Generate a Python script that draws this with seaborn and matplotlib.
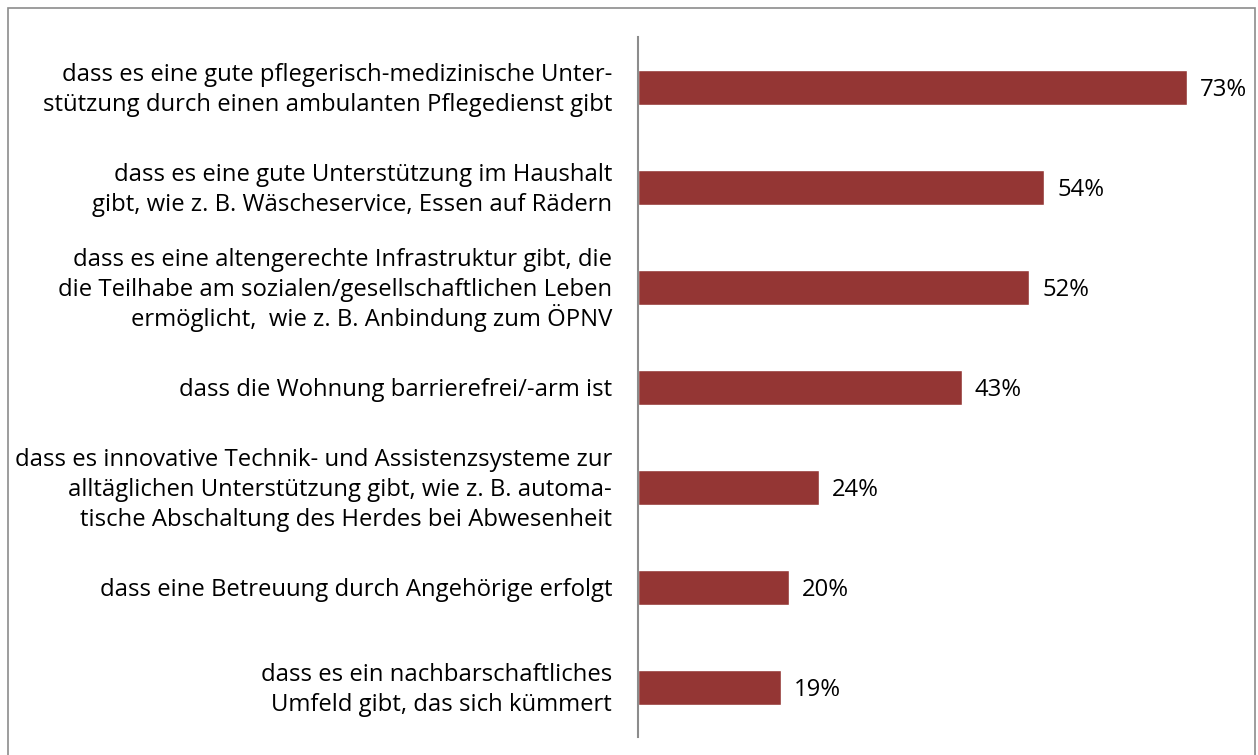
import pandas as pd
import matplotlib.pyplot as plt
import seaborn as sns
from matplotlib.patches import Rectangle

labels = [
    "dass es eine gute pflegerisch-medizinische Unter-\nstützung durch einen ambulanten Pflegedienst gibt",
    "dass es eine gute Unterstützung im Haushalt\ngibt, wie z. B. Wäscheservice, Essen auf Rädern",
    "dass es eine altengerechte Infrastruktur gibt, die\ndie Teilhabe am sozialen/gesellschaftlichen Leben\nermöglicht,  wie z. B. Anbindung zum ÖPNV",
    "dass die Wohnung barrierefrei/-arm ist",
    "dass es innovative Technik- und Assistenzsysteme zur\nalltäglichen Unterstützung gibt, wie z. B. automa-\ntische Abschaltung des Herdes bei Abwesenheit",
    "dass eine Betreuung durch Angehörige erfolgt",
    "dass es ein nachbarschaftliches\nUmfeld gibt, das sich kümmert",
]
values = [73, 54, 52, 43, 24, 20, 19]

df = pd.DataFrame({"label": labels, "value": values})

sns.set_style("white")
plt.rcParams['font.family'] = ['Open Sans', 'DejaVu Sans']

fig = plt.figure(figsize=(12.58, 7.55), dpi=100)
ax = fig.add_axes([0.5072, 0.0238, 0.4785, 0.927])

sns.barplot(data=df, x="value", y="label", orient="h", color="#943634",
            saturation=1, width=0.35, ax=ax)

ax.set_xlim(0, 80)
ax.set_ylim(6.5, -0.5)
ax.set_xlabel("")
ax.set_ylabel("")
ax.set_xticks([])
ax.set_yticklabels([])
ax.tick_params(axis="y", length=0)

for s in ["top", "right", "bottom"]:
    ax.spines[s].set_visible(False)
ax.spines["left"].set_color("#8c8c8c")
ax.spines["left"].set_linewidth(1.5)

# category labels, one text per line so the spacing stays even
line_px = 30
fs = 17.2
for i, lab in enumerate(labels):
    lines = lab.split("\n")
    n = len(lines)
    for j, line in enumerate(lines):
        dy = ((n - 1) / 2 - j) * line_px - 9
        ax.annotate(line, xy=(0, i), xycoords=("axes fraction", "data"),
                    xytext=(-26 * 0.72, dy * 0.72), textcoords="offset points",
                    ha="right", va="baseline", fontsize=fs, color="black")

for i, v in enumerate(values):
    ax.annotate(f"{v}%", xy=(v, i), xytext=(13 * 0.72, -9 * 0.72),
                textcoords="offset points", va="baseline", ha="left",
                fontsize=fs, color="black")

fig.patches.append(Rectangle((8 / 1258, -0.1), 1247 / 1258, 1.1 - 8 / 755,
                             transform=fig.transFigure, fill=False,
                             edgecolor="#8c8c8c", linewidth=1.2))

fig.savefig("out.png", dpi=100)
